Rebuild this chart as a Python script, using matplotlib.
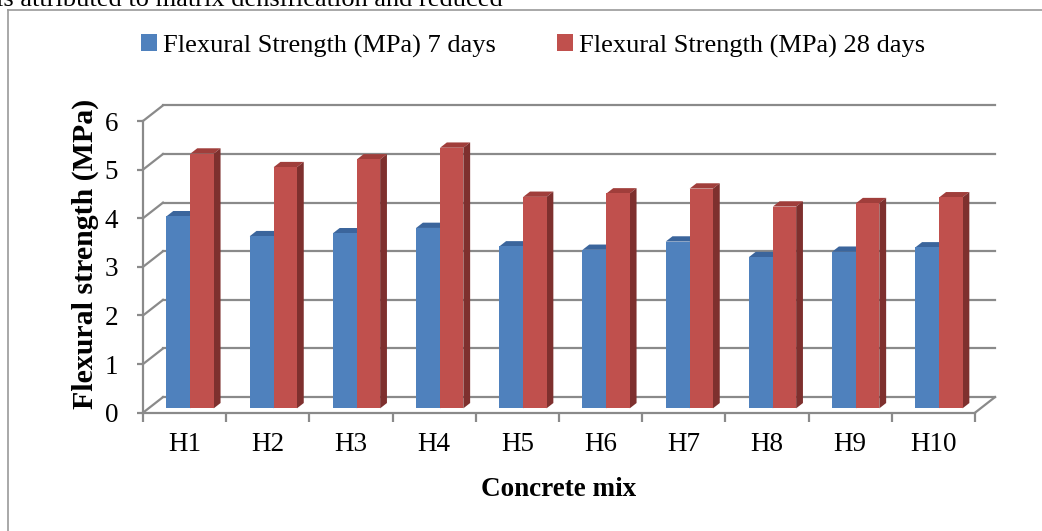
import matplotlib
matplotlib.use("Agg")
import matplotlib.pyplot as plt
from matplotlib.patches import Polygon
from matplotlib.lines import Line2D

# ---- data -------------------------------------------------------------
mixes = ["H1", "H2", "H3", "H4", "H5", "H6", "H7", "H8", "H9", "H10"]
strength_7d = [3.95, 3.54, 3.60, 3.71, 3.33, 3.26, 3.43, 3.11, 3.22, 3.31]
strength_28d = [5.24, 4.96, 5.12, 5.36, 4.35, 4.42, 4.52, 4.15, 4.22, 4.34]
series_labels = ["Flexural Strength (MPa) 7 days", "Flexural Strength (MPa) 28 days"]
y_ticks = [0, 1, 2, 3, 4, 5, 6]

# ---- style ------------------------------------------------------------
FONT = "Liberation Serif"
GRID = "#8a8a8a"
BLUE = ("#4F81BD", "#3B659C", "#3A5F8F")   # front, top, side
RED = ("#C0504D", "#A03E3B", "#7E302E")

W, H = 1042, 531
fig = plt.figure(figsize=(W / 100, H / 100), dpi=100)

# axes covers the front plane of the pseudo-3D plot
ax_l, ax_r, ax_t, ax_b = 143, 975, 121, 412.7
ax = fig.add_axes([ax_l / W, 1 - ax_b / H, (ax_r - ax_l) / W, (ax_b - ax_t) / H])
ax.set_xlim(0, len(mixes))
ax.set_ylim(0, 6)
ax.patch.set_visible(False)

# depth of the box (back wall offset) in data units
DX = 20 / ((ax_r - ax_l) / len(mixes))
DY = 15.6 / ((ax_b - ax_t) / 6)
F0, F1 = 0.28, 0.62        # front / back depth fraction of the columns

lw = 1.6
# back-wall gridlines and left-wall diagonals
for t in y_ticks:
    ax.add_line(Line2D([DX, len(mixes) + DX], [t + DY, t + DY], color=GRID,
                       lw=lw, clip_on=False, zorder=1))
    ax.add_line(Line2D([0, DX], [t, t + DY], color=GRID, lw=lw,
                       clip_on=False, zorder=1))
# floor right edge
ax.add_line(Line2D([len(mixes), len(mixes) + DX], [0, DY], color=GRID, lw=lw,
                   clip_on=False, zorder=1))

# ---- columns ----------------------------------------------------------
gap = 0.215
w_blue, w_red = 0.288, 0.280
base = F0 * DY
dd = F1 - F0
x_pos = list(range(len(mixes)))
xb = [i + gap + F0 * DX for i in x_pos]
xr = [x + w_blue for x in xb]


def column(x, w, v, cols, z):
    front, top, side = cols
    tp = Polygon([(x, base + v), (x + w, base + v),
                  (x + w + dd * DX, base + v + dd * DY),
                  (x + dd * DX, base + v + dd * DY)],
                 closed=True, fc=top, ec="none", clip_on=False, zorder=z)
    sd = Polygon([(x + w, base), (x + w, base + v),
                  (x + w + dd * DX, base + v + dd * DY),
                  (x + w + dd * DX, base + dd * DY)],
                 closed=True, fc=side, ec="none", clip_on=False, zorder=z)
    ax.add_patch(tp)
    ax.add_patch(sd)


for i in x_pos:
    column(xb[i], w_blue, strength_7d[i], BLUE, 3 + i * 0.01)
    column(xr[i], w_red, strength_28d[i], RED, 3.005 + i * 0.01)

bars_7 = ax.bar(xb, strength_7d, width=w_blue, bottom=base, align="edge",
                color=BLUE[0], edgecolor="none", zorder=3.5,
                label=series_labels[0])
bars_28 = ax.bar(xr, strength_28d, width=w_red, bottom=base, align="edge",
                 color=RED[0], edgecolor="none", zorder=3.6,
                 label=series_labels[1])

# ---- axes, ticks ------------------------------------------------------
for s in ["top", "right"]:
    ax.spines[s].set_visible(False)
for s in ["left", "bottom"]:
    ax.spines[s].set_color(GRID)
    ax.spines[s].set_linewidth(lw)
    ax.spines[s].set_zorder(1)

ax.set_yticks(y_ticks)
ax.set_yticklabels([str(t) for t in y_ticks], fontfamily=FONT, fontsize=19.5)
ax.tick_params(axis="y", length=4, width=lw, color=GRID, pad=14)

ax.set_xticks(range(len(mixes) + 1))
ax.set_xticklabels([])
ax.tick_params(axis="x", which="major", length=6.5, width=lw, color=GRID)
ax.set_xticks([i + 0.5 for i in x_pos], minor=True)
ax.set_xticklabels(mixes, minor=True, fontfamily=FONT, fontsize=19.5)
ax.tick_params(axis="x", which="minor", length=0, pad=14)

ax.set_ylabel("Flexural strength (MPa)", fontfamily=FONT, fontsize=21.5,
              fontweight="bold")
ax.yaxis.set_label_coords((99 - ax_l) / (ax_r - ax_l),
                          (ax_b - 254) / (ax_b - ax_t))
ax.set_xlabel("Concrete mix", fontfamily=FONT, fontsize=19.5,
              fontweight="bold", labelpad=14)

# ---- legend -----------------------------------------------------------
fig.legend(handles=[bars_7, bars_28], labels=series_labels, ncol=2,
           loc="center", bbox_to_anchor=(533 / W, 1 - 46 / H),
           frameon=False, prop={"family": FONT, "size": 19},
           handlelength=0.6, handleheight=0.6, handletextpad=0.25,
           columnspacing=2.3)

# ---- page frame and running text -------------------------------------
fig.add_artist(Line2D([8 / W, 8 / W], [0, 1 - 9.5 / H], color="#9a9a9a",
                      lw=1.2, transform=fig.transFigure))
fig.add_artist(Line2D([8 / W, 1], [1 - 9.5 / H, 1 - 9.5 / H], color="#9a9a9a",
                      lw=1.2, transform=fig.transFigure))
fig.text(-4 / W, 1 - 5.5 / H, "is attributed to matrix densification and reduced",
         fontfamily=FONT, fontsize=19, va="baseline", ha="left")

fig.savefig("out.png", dpi=100)
